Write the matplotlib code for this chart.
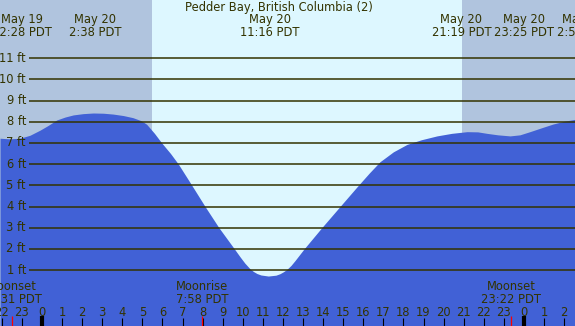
import matplotlib
matplotlib.use("Agg")
import matplotlib.pyplot as plt
import matplotlib.transforms as mtransforms

# ---- data ----
tide_hours = [-2.09, -1.60, -1.10, -0.60, -0.10, 0.30, 0.73, 1.15, 1.56, 2.05, 2.55,
              3.05, 3.54, 4.05, 4.53, 4.93, 5.21, 5.60, 5.96, 6.40, 6.79, 7.46, 8.12,
              8.81, 9.58, 9.86, 10.10, 10.36, 10.52, 10.70, 10.90, 11.27, 11.65, 11.85,
              12.02, 12.19, 12.40, 12.60, 13.05, 13.93, 14.84, 15.69, 16.30, 16.83,
              17.50, 18.18, 18.90, 19.67, 20.40, 21.17, 21.70, 22.16, 22.70, 23.31,
              23.80, 24.30, 24.90, 25.45, 26.00, 26.54]
tide_feet = [7.22, 7.19, 7.22, 7.36, 7.60, 7.82, 8.08, 8.22, 8.32, 8.38, 8.41,
             8.40, 8.36, 8.29, 8.19, 8.05, 7.88, 7.45, 7.00, 6.50, 6.00, 5.00, 4.00,
             3.00, 2.00, 1.63, 1.33, 1.06, 0.94, 0.84, 0.77, 0.72, 0.76, 0.83,
             0.92, 1.03, 1.22, 1.45, 2.00, 3.00, 4.00, 4.93, 5.58, 6.11,
             6.58, 6.93, 7.15, 7.33, 7.45, 7.53, 7.52, 7.45, 7.38, 7.33,
             7.38, 7.53, 7.72, 7.89, 8.02, 8.11]

ft_ticks = [1, 2, 3, 4, 5, 6, 7, 8, 9, 10, 11]
hour_ticks = list(range(-2, 27))
hour_labels = [str(h % 24) for h in hour_ticks]
midnights = [0, 24]
sunrise_h, sunset_h = 5.46, 20.90

title = "Pedder Bay, British Columbia (2)"
tide_label_dates = ["May 19", "May 20", "May 20", "May 20", "May 20", "May 21"]
tide_label_times = ["22:28 PDT", "2:38 PDT", "11:16 PDT", "21:19 PDT", "23:25 PDT", "2:56 PDT"]
tide_label_pos = [-0.99, 2.66, 11.35, 20.89, 24.0, 26.95]

moon_names = ["Moonset", "Moonrise", "Moonset"]
moon_times = ["22:31 PDT", "7:58 PDT", "23:22 PDT"]
moon_hours = [-1.483, 7.967, 23.367]

# ---- style ----
night_c = "#b0c4de"
day_c = "#ddf7ff"
water_c = "#4161d6"
text_c = "#333300"
fs = 8.3

W, H = 575, 326
fig = plt.figure(figsize=(W / 100, H / 100), dpi=100)
ax = fig.add_axes([0, 0, 1, 1])
xmin, xmax = -42 / 20.08, (575 - 42) / 20.08
ymin, ymax = (291.3 - 326) / 21.2, 291.3 / 21.2
ax.set_xlim(xmin, xmax)
ax.set_ylim(ymin, ymax)
ax.axis("off")

ax.axvspan(xmin, sunrise_h, color=night_c, lw=0, zorder=0)
ax.axvspan(sunrise_h, sunset_h, color=day_c, lw=0, zorder=0)
ax.axvspan(sunset_h, xmax, color=night_c, lw=0, zorder=0)

ax.fill_between(tide_hours, ymin, tide_feet, color=water_c, lw=0, zorder=1)

grid_x0 = (29 - 42) / 20.08
for f in ft_ticks:
    ax.plot([grid_x0, xmax], [f, f], color=text_c, lw=1.1, zorder=2, solid_capstyle="butt")
    ax.text((26 - 42) / 20.08, f, f"{f} ft", ha="right", va="center",
            color=text_c, fontsize=fs, zorder=3)

trans = mtransforms.blended_transform_factory(ax.transData, ax.transAxes)

def yfrac(py):
    return 1 - py / H

# hour ticks and labels
for h, lab in zip(hour_ticks, hour_labels):
    ax.plot([h, h], [yfrac(318), 0], color="black", lw=0.8, transform=trans, zorder=3,
            solid_capstyle="butt")
    ax.text(h, yfrac(312), lab, ha="center", va="center", color=text_c, fontsize=fs,
            transform=trans, zorder=3)
for m in midnights:
    ax.plot([m, m], [yfrac(316), 0], color="black", lw=3.0, transform=trans, zorder=4,
            solid_capstyle="butt")
for mh in moon_hours:
    ax.plot([mh, mh], [yfrac(316), 0], color="red", lw=0.9, transform=trans, zorder=4,
            solid_capstyle="butt")

# moon labels
for name, t, mh in zip(moon_names, moon_times, moon_hours):
    ax.text(mh, yfrac(287), name, ha="center", va="center", color=text_c, fontsize=fs,
            transform=trans, zorder=3)
    ax.text(mh, yfrac(299.5), t, ha="center", va="center", color=text_c, fontsize=fs,
            transform=trans, zorder=3)

# top labels
ax.text(11.8, yfrac(7.5), title, ha="center", va="center", color=text_c, fontsize=fs,
        transform=trans, zorder=3)
for d, t, p in zip(tide_label_dates, tide_label_times, tide_label_pos):
    ax.text(p, yfrac(20), d, ha="center", va="center", color=text_c, fontsize=fs,
            transform=trans, zorder=3)
    ax.text(p, yfrac(32), t, ha="center", va="center", color=text_c, fontsize=fs,
            transform=trans, zorder=3)

fig.savefig("out.png", dpi=100)
